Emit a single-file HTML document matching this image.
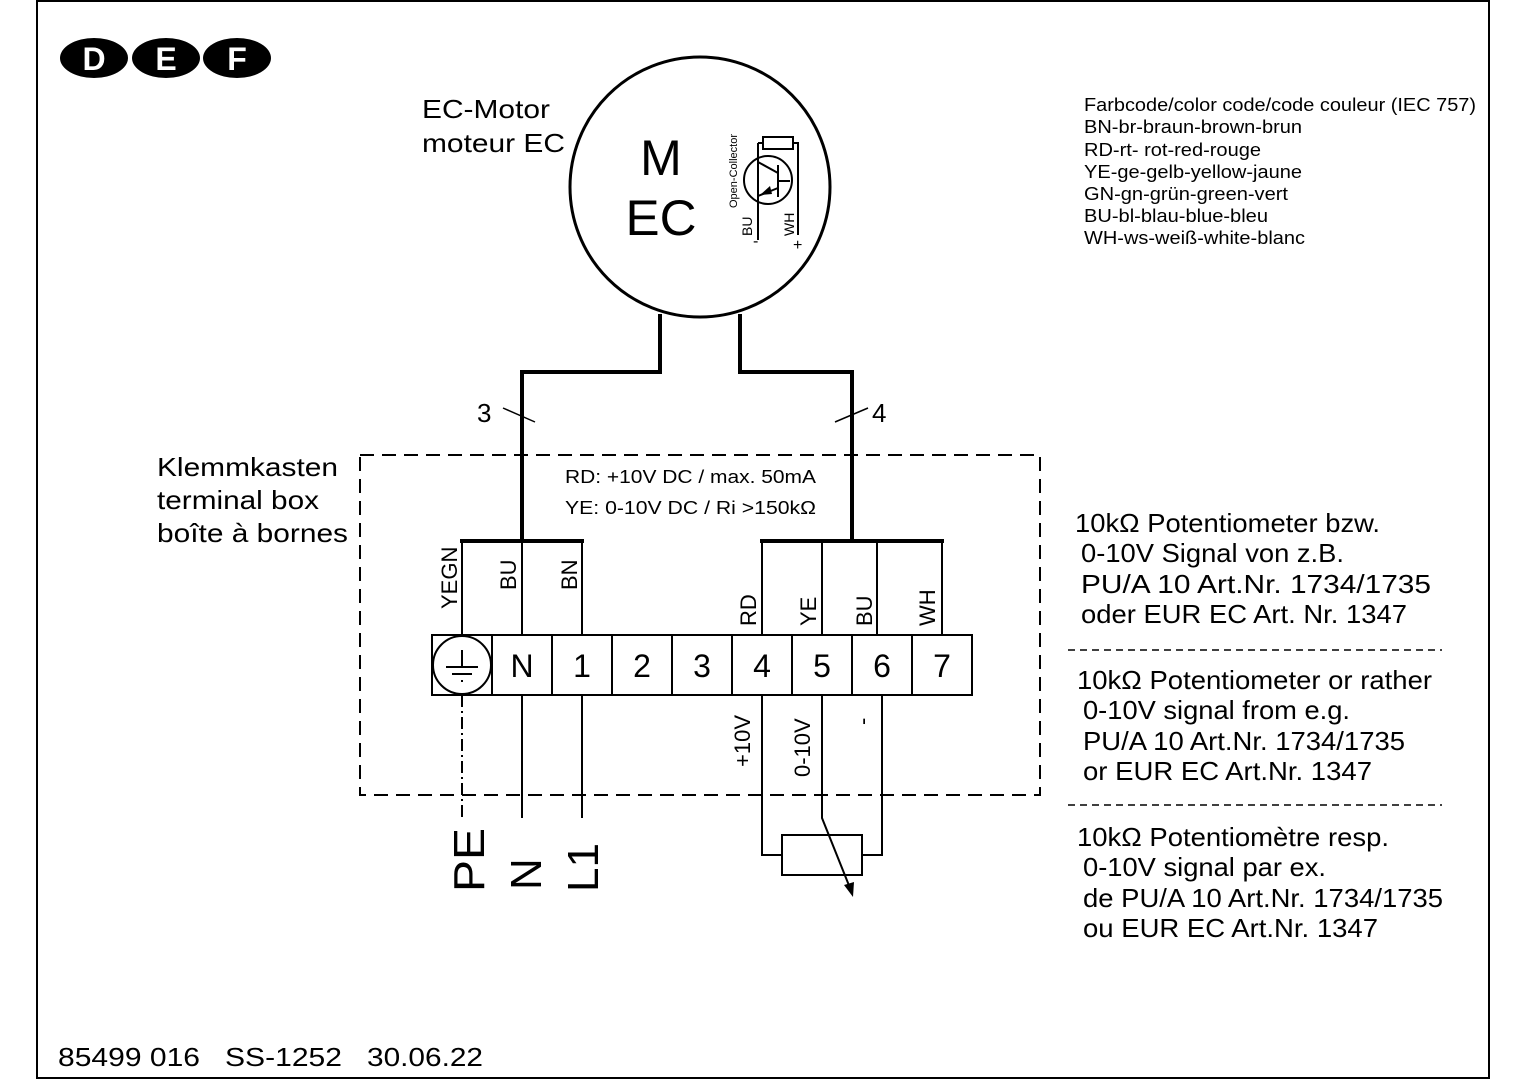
<!DOCTYPE html>
<html><head><meta charset="utf-8"><style>
html,body{margin:0;padding:0;background:#fff}
svg{display:block}
text{font-family:"Liberation Sans",sans-serif;fill:#000}
</style></head><body>
<svg width="1527" height="1080" viewBox="0 0 1527 1080" xmlns="http://www.w3.org/2000/svg">
<rect x="37" y="1" width="1452" height="1077" fill="none" stroke="#000" stroke-width="2"/>
<ellipse cx="94" cy="58" rx="34" ry="20"/><ellipse cx="166" cy="58" rx="34" ry="20"/><ellipse cx="237" cy="58" rx="34" ry="20"/>
<text x="94" y="70" font-size="32" font-weight="bold" text-anchor="middle" style="fill:#fff">D</text>
<text x="166" y="70" font-size="32" font-weight="bold" text-anchor="middle" style="fill:#fff">E</text>
<text x="237" y="70" font-size="32" font-weight="bold" text-anchor="middle" style="fill:#fff">F</text>
<circle cx="700" cy="187" r="130" fill="none" stroke="#000" stroke-width="3"/>
<text x="661" y="175" font-size="50" text-anchor="middle">M</text>
<text x="661" y="235" font-size="50" text-anchor="middle" textLength="71" lengthAdjust="spacingAndGlyphs">EC</text>
<text x="422" y="118" font-size="26" textLength="128" lengthAdjust="spacingAndGlyphs">EC-Motor</text>
<text x="422" y="152" font-size="26" textLength="143" lengthAdjust="spacingAndGlyphs">moteur EC</text>
<g stroke="#000" stroke-width="2" fill="none">
<circle cx="768" cy="180" r="24"/>
<rect x="763" y="137" width="30" height="12"/>
<polyline points="758,143 763,143"/>
<polyline points="758,143 758,240"/>
<polyline points="793,143 798,143 798,235"/>
<line x1="778" y1="165" x2="778" y2="197"/>
<line x1="778" y1="181" x2="790" y2="181"/>
<line x1="758" y1="162" x2="778" y2="173"/>
<line x1="758" y1="196" x2="778" y2="188"/>
</g>
<polygon points="760,195 770,186 772,194" fill="#000"/>
<text transform="translate(737,208) rotate(-90)" font-size="11">Open-Collector</text>
<text transform="translate(752,236) rotate(-90)" font-size="14">BU</text>
<text transform="translate(794,236) rotate(-90)" font-size="14">WH</text>
<text x="753" y="246" font-size="16">-</text>
<text x="793" y="250" font-size="16">+</text>
<g stroke="#000" stroke-width="4" fill="none">
<polyline points="660,314 660,372 522,372 522,541"/>
<polyline points="740,314 740,372 852,372 852,541"/>
<line x1="460" y1="541" x2="584" y2="541"/>
<line x1="760" y1="541" x2="944" y2="541"/>
</g>
<g stroke="#000" stroke-width="1.5">
<line x1="503" y1="408" x2="535" y2="422"/>
<line x1="835" y1="422" x2="868" y2="408"/>
</g>
<text x="477" y="422" font-size="26">3</text>
<text x="872" y="422" font-size="26">4</text>
<rect x="360" y="455" width="680" height="340" fill="none" stroke="#000" stroke-width="2" stroke-dasharray="14,8"/>
<text x="157" y="476" font-size="26" textLength="181" lengthAdjust="spacingAndGlyphs">Klemmkasten</text>
<text x="157" y="509" font-size="26" textLength="162" lengthAdjust="spacingAndGlyphs">terminal box</text>
<text x="157" y="542" font-size="26" textLength="191" lengthAdjust="spacingAndGlyphs">boîte à bornes</text>
<text x="565" y="483" font-size="18" textLength="251" lengthAdjust="spacingAndGlyphs">RD: +10V DC / max. 50mA</text>
<text x="565" y="514" font-size="18" textLength="251" lengthAdjust="spacingAndGlyphs">YE: 0-10V DC / Ri &gt;150kΩ</text>
<g stroke="#000" stroke-width="2" fill="none">
<line x1="462" y1="541" x2="462" y2="635"/>
<line x1="522" y1="541" x2="522" y2="635"/>
<line x1="582" y1="541" x2="582" y2="635"/>
<line x1="762" y1="541" x2="762" y2="635"/>
<line x1="822" y1="541" x2="822" y2="635"/>
<line x1="877" y1="541" x2="877" y2="635"/>
<line x1="942" y1="541" x2="942" y2="635"/>
<line x1="462" y1="695" x2="462" y2="820" stroke-dasharray="12,4,2,4"/>
<line x1="522" y1="695" x2="522" y2="818"/>
<line x1="582" y1="695" x2="582" y2="818"/>
<polyline points="762,695 762,855 782,855"/>
<polyline points="882,695 882,855 862,855"/>
<rect x="782" y="835" width="80" height="40"/>
<polyline points="822,695 822,818 850,888"/>
</g>
<polygon points="853,897 844,885 854,882" fill="#000"/>
<rect x="432" y="635" width="540" height="60" fill="#fff" stroke="#000" stroke-width="2"/>
<g stroke="#000" stroke-width="2">
<line x1="492" y1="635" x2="492" y2="695"/><line x1="552" y1="635" x2="552" y2="695"/>
<line x1="612" y1="635" x2="612" y2="695"/><line x1="672" y1="635" x2="672" y2="695"/>
<line x1="732" y1="635" x2="732" y2="695"/><line x1="792" y1="635" x2="792" y2="695"/>
<line x1="852" y1="635" x2="852" y2="695"/><line x1="912" y1="635" x2="912" y2="695"/>
</g>
<circle cx="462" cy="665" r="29" fill="none" stroke="#000" stroke-width="2"/>
<g stroke="#000" stroke-width="2">
<line x1="462" y1="650" x2="462" y2="667"/>
<line x1="446" y1="667" x2="478" y2="667"/>
<line x1="452" y1="674" x2="472" y2="674"/>
<line x1="461" y1="681" x2="463" y2="681"/>
</g>
<g font-size="32" text-anchor="middle">
<text x="522" y="677">N</text><text x="582" y="677">1</text><text x="642" y="677">2</text>
<text x="702" y="677">3</text><text x="762" y="677">4</text><text x="822" y="677">5</text>
<text x="882" y="677">6</text><text x="942" y="677">7</text>
</g>
<g font-size="22">
<text transform="translate(457,609) rotate(-90)">YEGN</text>
<text transform="translate(516,590) rotate(-90)">BU</text>
<text transform="translate(577,590) rotate(-90)">BN</text>
<text transform="translate(756,626) rotate(-90)">RD</text>
<text transform="translate(816,626) rotate(-90)">YE</text>
<text transform="translate(872,626) rotate(-90)">BU</text>
<text transform="translate(935,626) rotate(-90)">WH</text>
<text transform="translate(750,767) rotate(-90)">+10V</text>
<text transform="translate(810,777) rotate(-90)">0-10V</text>
<text transform="translate(870,725) rotate(-90)">-</text>
</g>
<g font-size="44">
<text transform="translate(484,892) rotate(-90)" textLength="64" lengthAdjust="spacingAndGlyphs">PE</text>
<text transform="translate(541,890) rotate(-90)">N</text>
<text transform="translate(598,892) rotate(-90)">L1</text>
</g>
<g font-size="18" lengthAdjust="spacingAndGlyphs">
<text x="1084" y="111" textLength="392" lengthAdjust="spacingAndGlyphs">Farbcode/color code/code couleur (IEC 757)</text>
<text x="1084" y="133" textLength="218" lengthAdjust="spacingAndGlyphs">BN-br-braun-brown-brun</text>
<text x="1084" y="156" textLength="177" lengthAdjust="spacingAndGlyphs">RD-rt- rot-red-rouge</text>
<text x="1084" y="178" textLength="218" lengthAdjust="spacingAndGlyphs">YE-ge-gelb-yellow-jaune</text>
<text x="1084" y="200" textLength="204" lengthAdjust="spacingAndGlyphs">GN-gn-grün-green-vert</text>
<text x="1084" y="222" textLength="184" lengthAdjust="spacingAndGlyphs">BU-bl-blau-blue-bleu</text>
<text x="1084" y="244" textLength="221" lengthAdjust="spacingAndGlyphs">WH-ws-weiß-white-blanc</text>
</g>
<g font-size="26">
<text x="1075" y="532" textLength="305" lengthAdjust="spacingAndGlyphs">10kΩ Potentiometer bzw.</text>
<text x="1081" y="562" textLength="263" lengthAdjust="spacingAndGlyphs">0-10V Signal von z.B.</text>
<text x="1081" y="593" textLength="350" lengthAdjust="spacingAndGlyphs">PU/A 10 Art.Nr. 1734/1735</text>
<text x="1081" y="623" textLength="326" lengthAdjust="spacingAndGlyphs">oder EUR EC Art. Nr. 1347</text>
<text x="1077" y="689" textLength="355" lengthAdjust="spacingAndGlyphs">10kΩ Potentiometer or rather</text>
<text x="1083" y="719" textLength="267" lengthAdjust="spacingAndGlyphs">0-10V signal from e.g.</text>
<text x="1083" y="750" textLength="322" lengthAdjust="spacingAndGlyphs">PU/A 10 Art.Nr. 1734/1735</text>
<text x="1083" y="780" textLength="289" lengthAdjust="spacingAndGlyphs">or EUR EC Art.Nr. 1347</text>
<text x="1077" y="846" textLength="312" lengthAdjust="spacingAndGlyphs">10kΩ Potentiomètre resp.</text>
<text x="1083" y="876" textLength="243" lengthAdjust="spacingAndGlyphs">0-10V signal par ex.</text>
<text x="1083" y="907" textLength="360" lengthAdjust="spacingAndGlyphs">de PU/A 10 Art.Nr. 1734/1735</text>
<text x="1083" y="937" textLength="295" lengthAdjust="spacingAndGlyphs">ou EUR EC Art.Nr. 1347</text>
</g>
<g stroke="#000" stroke-width="1.5" stroke-dasharray="7,5">
<line x1="1068" y1="650" x2="1442" y2="650"/>
<line x1="1068" y1="805" x2="1442" y2="805"/>
</g>
<g font-size="26">
<text x="58" y="1066" textLength="142" lengthAdjust="spacingAndGlyphs">85499 016</text>
<text x="225" y="1066" textLength="117" lengthAdjust="spacingAndGlyphs">SS-1252</text>
<text x="367" y="1066" textLength="116" lengthAdjust="spacingAndGlyphs">30.06.22</text>
</g>
</svg>
</body></html>
